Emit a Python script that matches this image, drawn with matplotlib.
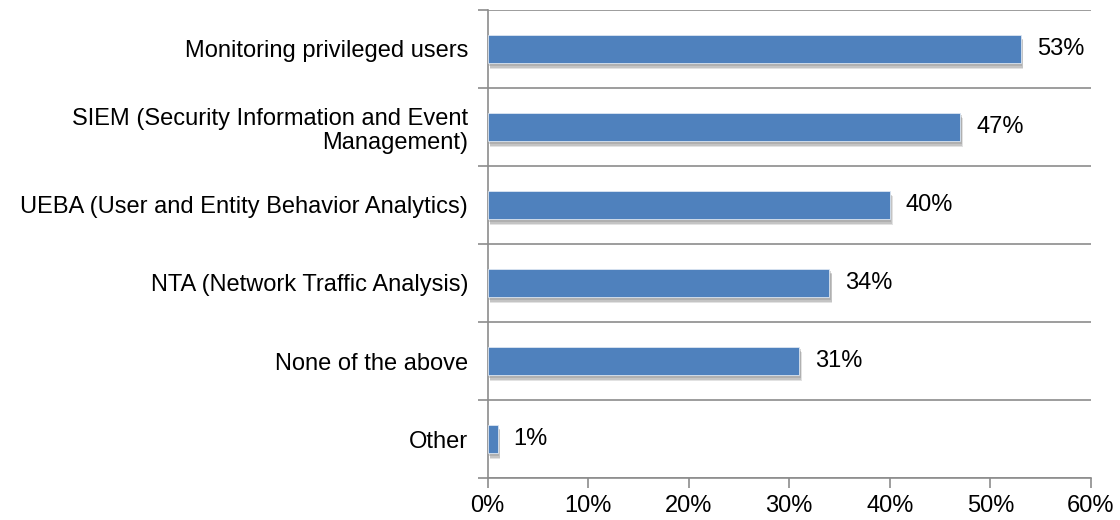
import matplotlib.pyplot as plt
import matplotlib.patheffects as pe
from matplotlib.ticker import MultipleLocator, PercentFormatter

plt.rcParams['font.family'] = ['Liberation Sans', 'DejaVu Sans']

# data, top to bottom
categories = [
    "Monitoring privileged users",
    "SIEM (Security Information and Event\nManagement)",
    "UEBA (User and Entity Behavior Analytics)",
    "NTA (Network Traffic Analysis)",
    "None of the above",
    "Other",
]
values = [53, 47, 40, 34, 31, 1]

FS = 17

fig = plt.figure(figsize=(11.2, 5.2), dpi=100)
ax = fig.add_axes([487.5 / 1120, 1 - 478 / 520, (1091 - 487.5) / 1120, 468 / 520])

ypos = list(range(len(categories)))[::-1]
bars = ax.barh(ypos, values, height=0.37, color='#4F81BD', edgecolor='#dce6f2', linewidth=0.6,
               zorder=3)
# soft drop shadow like the office chart
for b in bars:
    b.set_path_effects([pe.SimplePatchShadow(offset=(2, -4), shadow_rgbFace='#a0a0a0', alpha=0.3),
                        pe.SimplePatchShadow(offset=(1.5, -3), shadow_rgbFace='#8c8c8c', alpha=0.35),
                        pe.SimplePatchShadow(offset=(1, -2), shadow_rgbFace='#8c8c8c', alpha=0.35),
                        pe.Normal()])

# value labels
for y, v in zip(ypos, values):
    ax.text(v + 1.6, y, f"{v}%", va='center', ha='left', fontsize=FS, color='black')

ax.set_xlim(0, 60)
ax.set_ylim(-0.5, len(categories) - 0.5)
ax.xaxis.set_major_locator(MultipleLocator(10))
ax.xaxis.set_major_formatter(PercentFormatter(decimals=0))

# category labels sit between separator ticks
ax.set_yticks(ypos)
ax.set_yticklabels(categories, fontsize=FS, linespacing=1.15)
for lbl in ax.get_yticklabels():
    lbl.set_horizontalalignment('right')
    lbl.set_multialignment('right')
ax.tick_params(axis='y', length=0, pad=14)
ax.set_yticks([i - 0.5 for i in range(len(categories) + 1)], minor=True)
ax.tick_params(axis='y', which='minor', length=7, color='#8c8c8c', width=1.2)
ax.grid(axis='y', which='minor', color='#8c8c8c', linewidth=1.2, zorder=0)

ax.tick_params(axis='x', length=7, color='#8c8c8c', width=1.2, labelsize=FS, pad=5)

for side in ['top', 'right']:
    ax.spines[side].set_visible(False)
for side in ['left', 'bottom']:
    ax.spines[side].set_color('#8c8c8c')
    ax.spines[side].set_linewidth(1.2)

fig.savefig('out.png', dpi=100)
